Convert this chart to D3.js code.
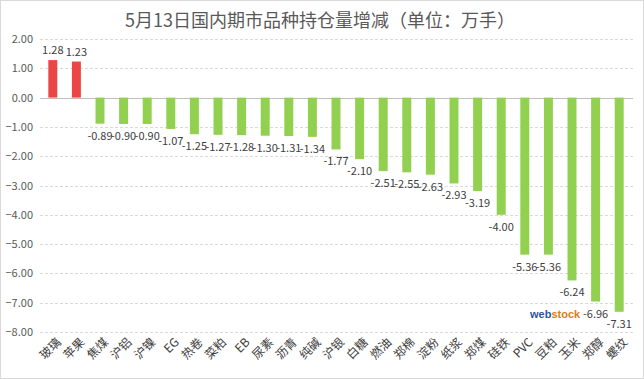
<!DOCTYPE html>
<html><head><meta charset="utf-8">
<script src="https://cdn.jsdelivr.net/npm/d3@7"></script>
<style>
body{margin:0;background:#fff;}
svg{display:block;font-family:"Noto Sans CJK SC","Microsoft YaHei",sans-serif;}
</style></head>
<body><svg id="c" width="644" height="379"></svg>
<script>
const categories = ["玻璃","苹果","焦煤","沪铝","沪镍","EG","热卷","菜粕","EB","尿素","沥青","纯碱","沪银","白糖","燃油","郑棉","淀粉","纸浆","郑煤","硅铁","PVC","豆粕","玉米","郑醇","螺纹"];
const values = [1.28,1.23,-0.89,-0.90,-0.90,-1.07,-1.25,-1.27,-1.28,-1.30,-1.31,-1.34,-1.77,-2.10,-2.51,-2.55,-2.63,-2.93,-3.19,-4.00,-5.36,-5.36,-6.24,-6.96,-7.31];
const yTicks = [2,1,0,-1,-2,-3,-4,-5,-6,-7,-8];
const title = "5月13日国内期市品种持仓量增减（单位：万手）";

const svg = d3.select("#c");
const W = 644, H = 379;
svg.append("rect").attr("x",0.5).attr("y",0.5).attr("width",W-1).attr("height",H-1)
  .attr("fill","#fff").attr("stroke","#d9d9d9");

const x = d3.scaleBand().domain(categories).range([41,631]).paddingInner(0.62).paddingOuter(0.31);
const y = d3.scaleLinear().domain([-8,2]).range([332,39]);

// gridlines
svg.append("g").selectAll("line").data(yTicks).join("line")
  .attr("x1",40).attr("x2",633)
  .attr("y1",d=>Math.round(y(d))+0.5).attr("y2",d=>Math.round(y(d))+0.5)
  .attr("stroke",d=>d===0?"#bfbfbf":"#d9d9d9")
  .attr("stroke-dasharray",d=>d===0?null:"3,2");

// y axis labels
const yAxis = d3.axisLeft(y).tickValues(yTicks).tickFormat(d3.format(".2f")).tickSize(0).tickPadding(0);
const ya = svg.append("g").attr("transform","translate(33,0)").call(yAxis);
ya.select(".domain").remove();
ya.selectAll("text").attr("fill","#595959").attr("font-size",11)
  .attr("font-family","'Noto Sans CJK SC',sans-serif");

// bars
svg.append("g").selectAll("rect").data(values).join("rect")
  .attr("x",(d,i)=>x(categories[i]))
  .attr("width",x.bandwidth())
  .attr("y",d=>y(Math.max(0,d)))
  .attr("height",d=>Math.abs(y(d)-y(0)))
  .attr("fill",d=>d>=0?"#ec4545":"#92d050");

// value labels
svg.append("g").selectAll("text").data(values).join("text")
  .attr("x",(d,i)=>x(categories[i])+x.bandwidth()/2)
  .attr("y",d=>d>=0?y(d)-6:y(d)+16)
  .attr("text-anchor","middle")
  .attr("font-size",11).attr("fill","#404040")
  .text(d=>d.toFixed(2));

// x axis labels
const xAxis = d3.axisBottom(x).tickSize(0).tickPadding(0);
const xa = svg.append("g").attr("transform","translate(0,338)").call(xAxis);
xa.select(".domain").remove();
xa.selectAll("text")
  .attr("font-size",12).attr("fill","#404040")
  .attr("font-family","'Noto Sans CJK SC',sans-serif")
  .attr("text-anchor","end")
  .attr("dy","0.35em")
  .attr("transform","translate(6,2) rotate(-45)");

// title
svg.append("text").attr("x",320).attr("y",27).attr("text-anchor","middle")
  .attr("font-size",18).attr("fill","#595959").text(title);

// watermark
const wm = svg.append("text").attr("x",530).attr("y",318).attr("font-size",11)
  .attr("font-weight","bold").attr("font-family","Arial, 'Liberation Sans', sans-serif");
wm.append("tspan").attr("fill","#2f5597").text("web");
wm.append("tspan").attr("fill","#e07b1a").text("stock");
</script></body></html>
